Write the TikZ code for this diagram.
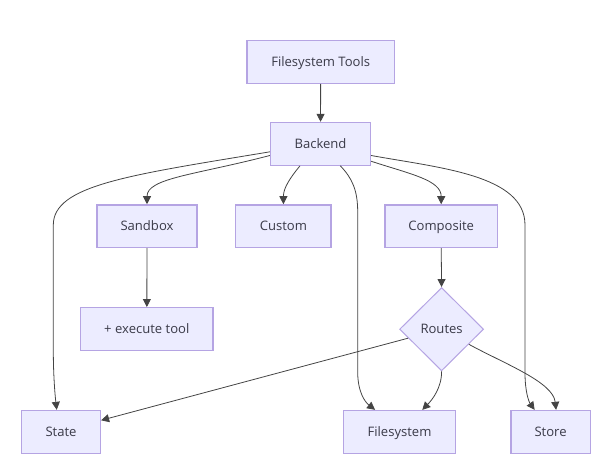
\documentclass[tikz,border=0pt]{standalone}
\usepackage{fontspec}
\setmainfont{Open Sans}
\usetikzlibrary{arrows.meta,shapes.geometric}
\definecolor{nodefill}{HTML}{ECECFF}
\definecolor{nodeline}{HTML}{B5A4E3}
\definecolor{inkcol}{HTML}{3A3A48}
\definecolor{edgecol}{HTML}{444444}
\tikzset{
  flowbox/.style={draw=nodeline,fill=nodefill,line width=0.95pt,text=inkcol,inner sep=0pt,text height=7pt,text depth=0pt,font=\fontsize{9.8}{12}\selectfont},
  flowdiamond/.style={flowbox,diamond,aspect=1,line width=0.75pt},
  link/.style={draw=edgecol,line width=0.6pt,-{Triangle[length=6pt,width=6pt]}}
}
\begin{document}
\begin{tikzpicture}[x=0.75pt,y=-0.75pt]
\useasboundingbox (0,0) rectangle (610,468);
\node[flowbox,minimum width=110.6pt,minimum height=32pt] (tools) at (320.7,61.8) {Filesystem Tools};
\node[flowbox,minimum width=75pt,minimum height=32pt] (backend) at (320.5,143.8) {Backend};
\node[flowbox,minimum width=75pt,minimum height=32pt] (sandbox) at (147,226.2) {Sandbox};
\node[flowbox,minimum width=71.5pt,minimum height=32pt] (custom) at (283.4,226.2) {Custom};
\node[flowbox,minimum width=84.2pt,minimum height=32pt] (composite) at (441.2,226.2) {Composite};
\node[flowbox,minimum width=99.4pt,minimum height=32pt] (exec) at (146.8,329) {+ execute tool};
\node[flowdiamond,minimum width=63pt,minimum height=62.5pt] (routes) at (441.6,329.2) {Routes};
\node[flowbox,minimum width=59.2pt,minimum height=32pt] (state) at (61,431.8) {State};
\node[flowbox,minimum width=83.7pt,minimum height=32pt] (fs) at (399.5,431.8) {Filesystem};
\node[flowbox,minimum width=59.5pt,minimum height=32pt] (store) at (550.6,431.8) {Store};
\draw[link] (tools) -- (backend);
\draw[link] (backend.189.5) .. controls (130,175) and (53.3,185) .. (53.3,225) -- (53.3,350) .. controls (53.3,375) and (55,395) .. (state.101.3);
\draw[link] (backend.193.8) .. controls (195,175) and (147,178) .. (sandbox.north);
\draw[link] (backend.227) .. controls (290,178) and (283.4,188) .. (custom.north);
\draw[link] (backend.312.5) .. controls (352,178) and (357.7,190) .. (357.7,212) -- (357.7,372) .. controls (357.7,392) and (365,402) .. (fs.138.7);
\draw[link] (backend.341) .. controls (410,174) and (441.2,180) .. (composite.north);
\draw[link] (backend.347.9) .. controls (440,168) and (525,175) .. (525,225) -- (525,373) .. controls (525,392) and (529,402) .. (store.126);
\draw[link] (sandbox) -- (exec);
\draw[link] (composite.south) -- (routes.north);
\draw[link] (routes.195.6) -- (state.16.6);
\draw[link] (routes.south) .. controls (441.7,388) and (432,400) .. (fs.44);
\draw[link] (routes.331.5) .. controls (505,364) and (553,382) .. (store.76.9);
\end{tikzpicture}
\end{document}
